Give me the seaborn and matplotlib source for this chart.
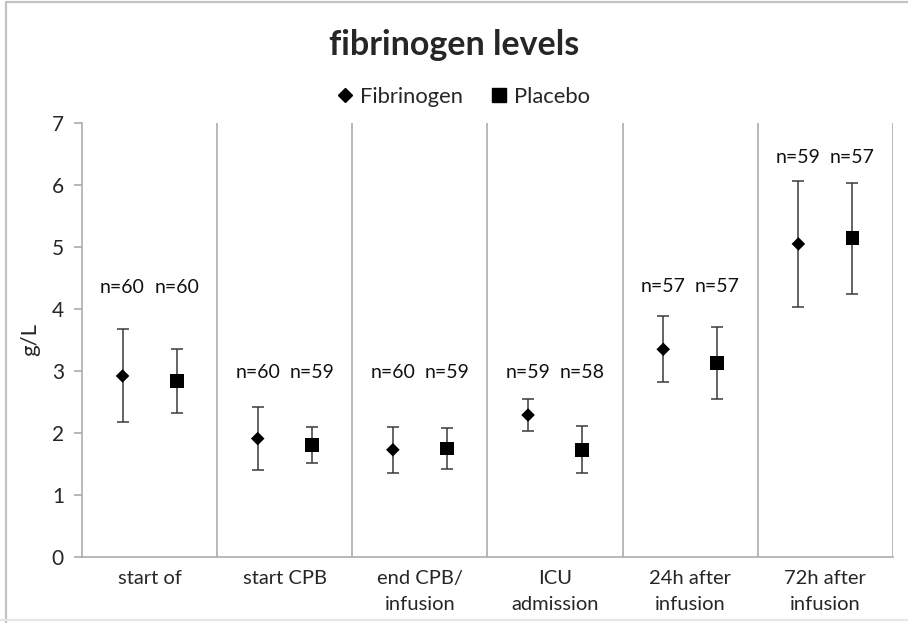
import numpy as np
import pandas as pd
import matplotlib
matplotlib.use("Agg")
import matplotlib.pyplot as plt
from matplotlib.lines import Line2D
import seaborn as sns

# ---- data ----
categories = ["start of", "start CPB", "end CPB/\ninfusion", "ICU\nadmission",
              "24h after\ninfusion", "72h after\ninfusion"]
series_names = ["Fibrinogen", "Placebo"]
fib_mean = [2.92, 1.91, 1.73, 2.29, 3.35, 5.05]
fib_sd = [0.75, 0.51, 0.37, 0.26, 0.53, 1.02]
pla_mean = [2.84, 1.81, 1.75, 1.73, 3.13, 5.14]
pla_sd = [0.52, 0.29, 0.33, 0.38, 0.58, 0.90]
fib_n = [60, 60, 60, 59, 57, 59]
pla_n = [60, 59, 59, 58, 57, 57]
y_ticks = [0, 1, 2, 3, 4, 5, 6, 7]
n_label_y = [4.35, 2.97, 2.97, 2.97, 4.37, 6.45]

# ---- style ----
sns.set_style("white")
plt.rcParams["font.family"] = ["Lato", "DejaVu Sans"]

offsets = {"Fibrinogen": -0.2, "Placebo": 0.2}
rows = []
for i, cat in enumerate(categories):
    rows.append(dict(cat=cat, series="Fibrinogen", mean=fib_mean[i], sd=fib_sd[i], n=fib_n[i],
                     x=i + offsets["Fibrinogen"], ly=n_label_y[i]))
    rows.append(dict(cat=cat, series="Placebo", mean=pla_mean[i], sd=pla_sd[i], n=pla_n[i],
                     x=i + offsets["Placebo"], ly=n_label_y[i]))
df = pd.DataFrame(rows)

fig = plt.figure(figsize=(9.08, 6.23), dpi=100)
ax = fig.add_axes([82 / 908, 66 / 623, 811 / 908, 434 / 623])

grey = "#a6a6a6"
err_col = "#3a3a3a"

# error bars
for s in series_names:
    d = df[df.series == s]
    ax.errorbar(d.x, d["mean"], yerr=d.sd, fmt="none", ecolor=err_col,
                elinewidth=1.1, capsize=4.5, capthick=1.1, zorder=2)

sns.scatterplot(data=df, x="x", y="mean", style="series",
                markers={"Fibrinogen": "D", "Placebo": "s"},
                size="series", sizes={"Fibrinogen": 48, "Placebo": 100},
                color="black", linewidth=0, legend=False, zorder=3, ax=ax)

# n labels
for _, r in df.iterrows():
    ax.text(r.x, r.ly, f"n={r.n}", ha="center", va="center", fontsize=14, color="#111111")

# separators
for b in np.arange(0.5, len(categories), 1.0):
    ax.axvline(b, color=grey, lw=1.1, zorder=1)

ax.set_xlim(-0.5, len(categories) - 0.5)
ax.set_ylim(0, 7)
ax.set_yticks(y_ticks)
ax.set_yticklabels([str(t) for t in y_ticks], fontsize=15)
ax.set_xticks(range(len(categories)))
ax.set_xticklabels(categories, fontsize=14.5, linespacing=1.6)
ax.set_xticks(np.arange(-0.5, len(categories), 1.0), minor=True)
ax.tick_params(axis="x", which="major", length=0, pad=9.5)
ax.tick_params(axis="x", which="minor", length=6, color=grey, width=1.1, direction="out")
ax.tick_params(axis="y", length=6, color=grey, width=1.1, direction="out", pad=7, left=True)
ax.set_xlabel("")
ax.set_ylabel("g/L", fontsize=16, labelpad=8)

for side in ["top", "right"]:
    ax.spines[side].set_visible(False)
for side in ["left", "bottom"]:
    ax.spines[side].set_color(grey)
    ax.spines[side].set_linewidth(1.1)

fig.suptitle("fibrinogen levels", fontsize=24.5, fontweight="bold", y=1 - 45 / 623, va="center")

handles = [Line2D([], [], marker="D", color="black", linestyle="none", markersize=7),
           Line2D([], [], marker="s", color="black", linestyle="none", markersize=10)]
fig.legend(handles, series_names, loc="center", bbox_to_anchor=(462 / 908, 1 - 97 / 623),
           ncol=2, frameon=False, fontsize=15.8, handletextpad=0.2, columnspacing=1.1,
           handlelength=1.0)

# outer frame
fig.add_artist(Line2D([6 / 908, 6 / 908], [0, 1 - 2 / 623], transform=fig.transFigure,
                      color="#c4c4c4", lw=1.6))
fig.add_artist(Line2D([6 / 908, 1], [1 - 2 / 623, 1 - 2 / 623], transform=fig.transFigure,
                      color="#c4c4c4", lw=1.6))
fig.add_artist(Line2D([0, 1], [3 / 623, 3 / 623], transform=fig.transFigure,
                      color="#e6e6e6", lw=1.6))

fig.savefig("out.png", dpi=100)
